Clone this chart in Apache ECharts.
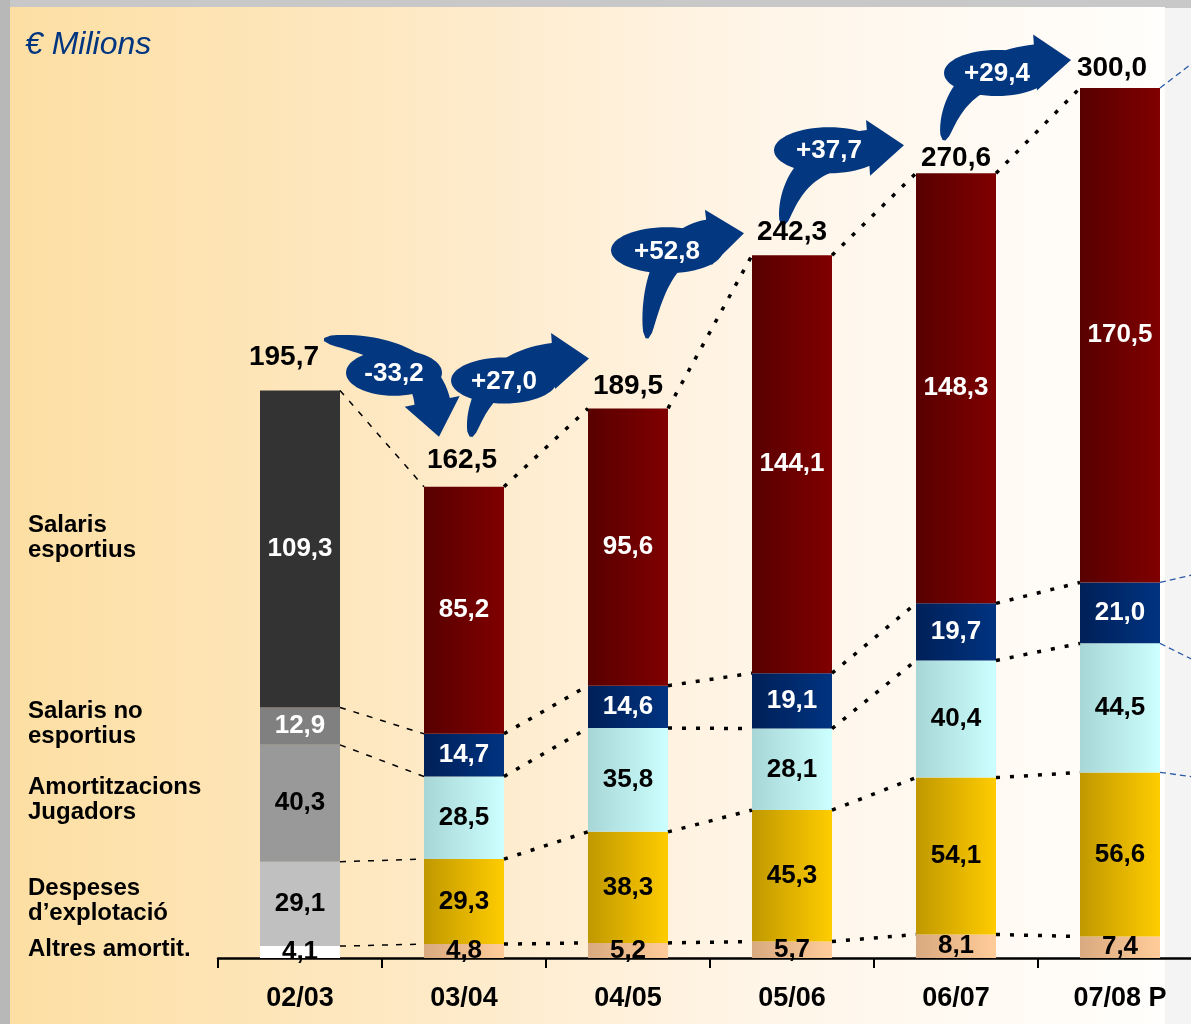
<!DOCTYPE html>
<html>
<head>
<meta charset="utf-8">
<title>Despeses</title>
<script src="https://cdn.jsdelivr.net/npm/echarts@6/dist/echarts.min.js"></script>
<style>
  html, body { margin: 0; padding: 0; background: #f4f4f4; }
  #chart { width: 1191px; height: 1024px; }
</style>
</head>
<body>
<div id="chart"></div>
<script>
// data (€ milions)
const categories = ['02/03', '03/04', '04/05', '05/06', '06/07', '07/08 P']
const altresAmortit = [4.1, 4.8, 5.2, 5.7, 8.1, 7.4]
const despesesExplotacio = [29.1, 29.3, 38.3, 45.3, 54.1, 56.6]
const amortJugadors = [40.3, 28.5, 35.8, 28.1, 40.4, 44.5]
const salarisNoEsportius = [12.9, 14.7, 14.6, 19.1, 19.7, 21.0]
const salarisEsportius = [109.3, 85.2, 95.6, 144.1, 148.3, 170.5]
const totals = [195.7, 162.5, 189.5, 242.3, 270.6, 300.0]
const changes = [-33.2, 27.0, 52.8, 37.7, 29.4]

const FONT = '"Liberation Sans", Arial, Helvetica, sans-serif'
const BAR_W = 80
const fmt = v => v.toFixed(1).replace('.', ',')

// layer styles, bottom to top
const layers = [
  { name: 'Altres amortit.', data: altresAmortit, grey: '#ffffff', from: '#d9aa80', to: '#ffcc99', text: '#000' },
  { name: "Despeses d'explotació", data: despesesExplotacio, grey: '#c0c0c0', from: '#c09800', to: '#ffcc00', text: '#000' },
  { name: 'Amortitzacions Jugadors', data: amortJugadors, grey: '#999999', from: '#a8d6d6', to: '#ccffff', text: '#000' },
  { name: 'Salaris no esportius', data: salarisNoEsportius, grey: '#808080', from: '#002058', to: '#003380', text: '#fff' },
  { name: 'Salaris esportius', data: salarisEsportius, grey: '#333333', from: '#580000', to: '#800000', text: '#fff' }
]

// cumulative tops of each layer
const cum = []
layers.forEach((l, k) => {
  cum.push(l.data.map((v, i) => (k ? cum[k - 1][i] : 0) + v))
})

const grad = (a, b) => ({ type: 'linear', x: 0, y: 0, x2: 1, y2: 0, colorStops: [{ offset: 0, color: a }, { offset: 1, color: b }] })

const barSeries = layers.map(l => ({
  name: l.name,
  type: 'bar',
  stack: 'total',
  barWidth: BAR_W,
  itemStyle: { color: grad(l.from, l.to) },
  label: {
    show: true, position: 'inside', color: l.text,
    fontFamily: FONT, fontWeight: 'bold', fontSize: 26,
    formatter: p => fmt(p.value)
  },
  data: l.data.map((v, i) => i === 0 ? { value: v, itemStyle: { color: l.grey } } : v)
}))

// connector lines between bars
const connData = []
for (let k = 0; k < layers.length; k++) {
  for (let i = 0; i < categories.length - 1; i++) connData.push([i, cum[k][i], cum[k][i + 1]])
}

// lines leaving the last bar towards the right edge (dy in px)
const outData = [[5, cum[4][5], -23], [5, cum[3][5], -7], [5, cum[2][5], 15], [5, cum[1][5], 4]]

// arrow layout: tail offset from bar i top, tip offset from bar i+1 top, control fractions, ellipse offset from tip
const arrowLayout = [
  { tail: [24, -51], tip: [-25, -50], ctrl: [0.85, 0.08], ell: [-45, -64], rx: 48 },
  { tail: [7, -50], tip: [-39, -50], ctrl: [0.08, 0.9], ell: [-85, 22], rx: 53 },
  { tail: [19, -70], tip: [-48, -22], ctrl: [0.08, 0.9], ell: [-77, 17], rx: 56 },
  { tail: [-9, -30], tip: [-52, -28], ctrl: [0.08, 0.9], ell: [-75, 5], rx: 55 },
  { tail: [-12, -33], tip: [-49, -28], ctrl: [0.08, 0.9], ell: [-74, 13], rx: 53 }
]
const arrowData = changes.map((c, i) => [i, totals[i], totals[i + 1], c])
const totalOffsets = [[-16, -13], [-2, -6], [0, -2], [0, -3], [0, 5], [-8, 0]]

function arrowPoints(T, C, H) {
  const headLen = 36, headHalf = 28, wMax = 36
  const dx = H[0] - C[0], dy = H[1] - C[1]
  const dl = Math.hypot(dx, dy)
  const B = [H[0] - dx / dl * headLen, H[1] - dy / dl * headLen]
  const left = [], right = []
  const n = 30
  for (let s = 0; s <= n; s++) {
    const t = s / n
    const px = (1 - t) * (1 - t) * T[0] + 2 * (1 - t) * t * C[0] + t * t * B[0]
    const py = (1 - t) * (1 - t) * T[1] + 2 * (1 - t) * t * C[1] + t * t * B[1]
    const tx = 2 * (1 - t) * (C[0] - T[0]) + 2 * t * (B[0] - C[0])
    const ty = 2 * (1 - t) * (C[1] - T[1]) + 2 * t * (B[1] - C[1])
    const tl = Math.hypot(tx, ty) || 1
    const nx = -ty / tl, ny = tx / tl
    const w = wMax / 2 * (0.08 + 0.92 * Math.pow(t, 0.5))
    left.push([px + nx * w, py + ny * w])
    right.push([px - nx * w, py - ny * w])
  }
  const nx = -dy / dl, ny = dx / dl
  return left.concat([[B[0] + nx * headHalf, B[1] + ny * headHalf], H, [B[0] - nx * headHalf, B[1] - ny * headHalf]], right.reverse())
}

const chart = echarts.init(document.getElementById('chart'))

chart.setOption({
  animation: false,
  backgroundColor: '#f4f4f4',
  grid: { left: 218, top: 88, height: 870, width: 984, outerBoundsMode: 'none', containLabel: false },
  xAxis: {
    type: 'category',
    data: categories,
    axisLine: { lineStyle: { color: '#000', width: 2.5 } },
    axisTick: { show: true, length: 10, lineStyle: { color: '#000', width: 2 } },
    axisLabel: { margin: 27, color: '#000', fontFamily: FONT, fontWeight: 'bold', fontSize: 27 }
  },
  yAxis: { type: 'value', min: 0, max: 300, show: false },
  graphic: [
    { type: 'rect', z: -10, shape: { x: 0, y: 0, width: 1191, height: 8 }, style: { fill: '#c8c8c8' } },
    { type: 'rect', z: -10, shape: { x: 0, y: 0, width: 10, height: 1024 }, style: { fill: '#b8b8b8' } },
    {
      type: 'rect', z: -9, shape: { x: 10, y: 7, width: 1155, height: 1017 },
      style: { fill: { type: 'linear', x: 0, y: 0, x2: 1, y2: 0, colorStops: [
        { offset: 0, color: '#fddfa3' }, { offset: 0.35, color: '#fee9c5' },
        { offset: 0.65, color: '#fff5e8' }, { offset: 1, color: '#fffefc' }] } }
    },
    { type: 'text', left: 25, top: 29, style: { text: '€ Milions', fill: '#003580', font: 'italic 32px ' + FONT } },
    { type: 'text', left: 28, top: 513, style: { text: 'Salaris\nesportius', fill: '#000', font: 'bold 24px ' + FONT, lineHeight: 25 } },
    { type: 'text', left: 28, top: 699, style: { text: 'Salaris no\nesportius', fill: '#000', font: 'bold 24px ' + FONT, lineHeight: 25 } },
    { type: 'text', left: 28, top: 775, style: { text: 'Amortitzacions\nJugadors', fill: '#000', font: 'bold 24px ' + FONT, lineHeight: 25 } },
    { type: 'text', left: 28, top: 876, style: { text: 'Despeses\nd’explotació', fill: '#000', font: 'bold 24px ' + FONT, lineHeight: 25 } },
    { type: 'text', left: 28, top: 937, style: { text: 'Altres amortit.', fill: '#000', font: 'bold 24px ' + FONT } }
  ],
  series: [
    ...barSeries,
    {
      type: 'custom',
      z: 3,
      silent: true,
      encode: { x: 0, y: 1 },
      data: connData,
      renderItem: (params, api) => {
        const i = api.value(0)
        const a = api.coord([i, api.value(1)])
        const b = api.coord([i + 1, api.value(2)])
        const first = i === 0
        return {
          type: 'line',
          shape: { x1: a[0] + BAR_W / 2, y1: a[1], x2: b[0] - BAR_W / 2, y2: b[1] },
          style: { stroke: '#000', lineWidth: first ? 1.5 : 3.5, lineDash: first ? [6, 8] : [4, 10] }
        }
      }
    },
    {
      type: 'custom',
      z: 3,
      silent: true,
      encode: { x: 0, y: 1 },
      data: outData,
      renderItem: (params, api) => {
        const a = api.coord([api.value(0), api.value(1)])
        return {
          type: 'line',
          shape: { x1: a[0] + BAR_W / 2, y1: a[1], x2: a[0] + BAR_W / 2 + 40, y2: a[1] + api.value(2) * 40 / 30 },
          style: { stroke: '#2a5aa8', lineWidth: 1.3, lineDash: [6, 4] }
        }
      }
    },
    {
      type: 'scatter',
      z: 6,
      symbolSize: 0,
      itemStyle: { opacity: 1 },
      data: totals.map((v, i) => ({ value: v, label: { offset: totalOffsets[i] } })),
      label: {
        show: true, position: 'top', distance: 6, color: '#000', opacity: 1,
        fontFamily: FONT, fontWeight: 'bold', fontSize: 28,
        formatter: p => fmt(p.value)
      }
    },
    {
      type: 'custom',
      z: 5,
      silent: true,
      encode: { x: 0, y: 1 },
      data: arrowData,
      renderItem: (params, api) => {
        const L = arrowLayout[params.dataIndex]
        const i = api.value(0)
        const a = api.coord([i, api.value(1)])
        const b = api.coord([i + 1, api.value(2)])
        const T = [a[0] + L.tail[0], a[1] + L.tail[1]]
        const H = [b[0] + L.tip[0], b[1] + L.tip[1]]
        const C = [T[0] + L.ctrl[0] * (H[0] - T[0]), T[1] + L.ctrl[1] * (H[1] - T[1])]
        const cx = H[0] + L.ell[0], cy = H[1] + L.ell[1]
        const v = api.value(3)
        return {
          type: 'group',
          children: [
            { type: 'polygon', shape: { points: arrowPoints(T, C, H) }, style: { fill: '#03377f' } },
            { type: 'ellipse', shape: { cx: cx, cy: cy, rx: L.rx, ry: 23 }, style: { fill: '#03377f' } },
            {
              type: 'text',
              style: {
                text: (v > 0 ? '+' : '') + fmt(v), x: cx, y: cy + 1, align: 'center', verticalAlign: 'middle',
                fill: '#fff', font: 'bold 26px ' + FONT
              }
            }
          ]
        }
      }
    }
  ]
})
</script>
</body>
</html>
